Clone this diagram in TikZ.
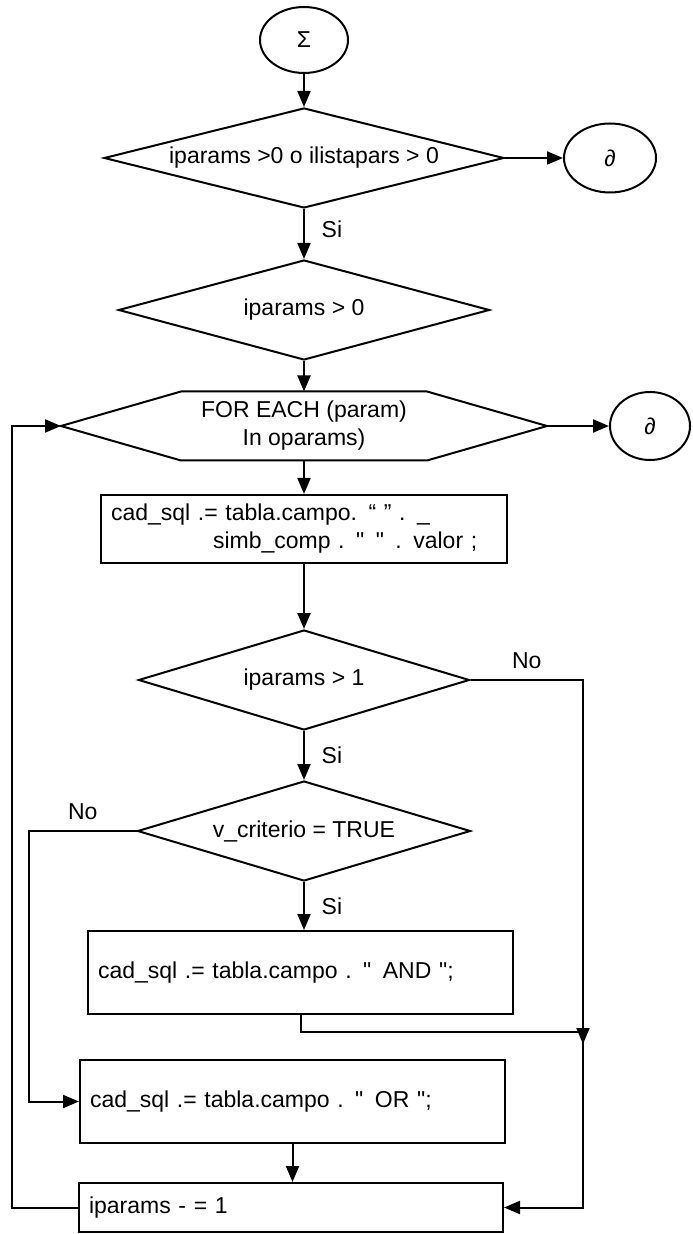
\documentclass[tikz,border=0pt]{standalone}
\usepackage{fontspec}
\setmainfont{Liberation Sans}
\usetikzlibrary{shapes.geometric,arrows.meta}

\begin{document}
\begin{tikzpicture}[x=0.5pt, y=-0.5pt, line width=1pt,
    every node/.style={font=\fontsize{11.5}{14}\selectfont},
    arr/.style={-{Triangle[length=8pt,width=6.5pt]}},
    term/.style={draw, ellipse, inner sep=0pt},
    cond/.style={draw, diamond, aspect=4, inner sep=0pt},
    stmt/.style={draw, rectangle, inner xsep=5pt, inner ysep=0pt, align=left}]
    \useasboundingbox (0,0) rectangle (692,1234);

    % Draw the shapes
    \node[term, minimum width=44pt, minimum height=33pt] (start) at (304,40) {Σ};
    \node[cond, minimum width=200pt, minimum height=50pt] (c1) at (304,158) {iparams >0 o ilistapars > 0};
    \node[term, minimum width=46pt, minimum height=34.5pt] (end1) at (610,158) {∂};
    \node[cond, minimum width=185.5pt, minimum height=50pt] (c2) at (304,310) {iparams > 0};
    \node[minimum width=122pt, minimum height=33.5pt, inner sep=0pt, align=center] (loop) at (304,426) {FOR EACH (param)\\In oparams)};
    \coordinate (loopL) at ([xshift=-60pt]loop.west);
    \coordinate (loopR) at ([xshift=60pt]loop.east);
    \draw (loop.north west) -- (loop.north east) -- (loopR) -- (loop.south east) -- (loop.south west) -- (loopL) -- cycle;
    \node[term, minimum width=40pt, minimum height=34pt] (end2) at (650,426) {∂};
    \node[stmt, text width=193pt, minimum height=34pt] (cad) at (304,529) {cad\_sql .= tabla.campo. “ ” . \_\\\hspace*{51pt}simb\_comp . \textquotedbl{} \textquotedbl{} . valor ;};
    \node[cond, minimum width=165.5pt, minimum height=50pt] (c3) at (304,680) {iparams > 1};
    \node[cond, minimum width=166.5pt, minimum height=50pt] (c4) at (304,831) {v\_criterio = TRUE};
    \node[stmt, text width=202.5pt, minimum height=41.5pt] (andb) at (300.5,972.5) {cad\_sql .= tabla.campo . \textquotedbl{} AND \textquotedbl;};
    \node[stmt, text width=202.5pt, minimum height=41.5pt] (orb) at (292.5,1101.5) {cad\_sql .= tabla.campo . \textquotedbl{} OR \textquotedbl;};
    \node[stmt, text width=202pt, minimum height=24.5pt] (dec) at (291,1207.5) {iparams - = 1};

    \coordinate (railR) at (583,0);
    \coordinate (railL) at (29,0);
    \coordinate (railO) at (12,0);
    \coordinate (joinR) at (583,1032);

    % Draw the arrows
    \draw[arr] (start) -- (c1);
    \draw[arr] (c1) -- (end1);
    \draw[arr] (c1) -- node[right, pos=0.4, xshift=5pt] {Si} (c2);
    \draw[arr] (c2.south) -- (loop.north);
    \draw[arr] (loopR) -- (end2);
    \draw[arr] (loop.south) -- (cad);
    \draw[arr] (cad) -- (c3);
    \draw[arr] (c3.east) -- node[above, yshift=2pt] {No} (c3.east -| railR) |- (dec.east);
    \draw[arr] (c3) -- node[right, xshift=5pt] {Si} (c4);
    \draw[arr] (c4.west) -- node[above, yshift=2pt] {No} (c4.west -| railL) |- (orb.west);
    \draw[arr] (c4.south) -- node[right, xshift=5pt] {Si} (c4.south |- andb.north);
    \draw[arr] (andb.south) |- (joinR) -- ([yshift=-6pt]joinR);
    \draw[arr] (orb.south) -- (orb.south |- dec.north);
    \draw[arr] (dec.west) -- (dec.west -| railO) |- (loopL);
\end{tikzpicture}
\end{document}
